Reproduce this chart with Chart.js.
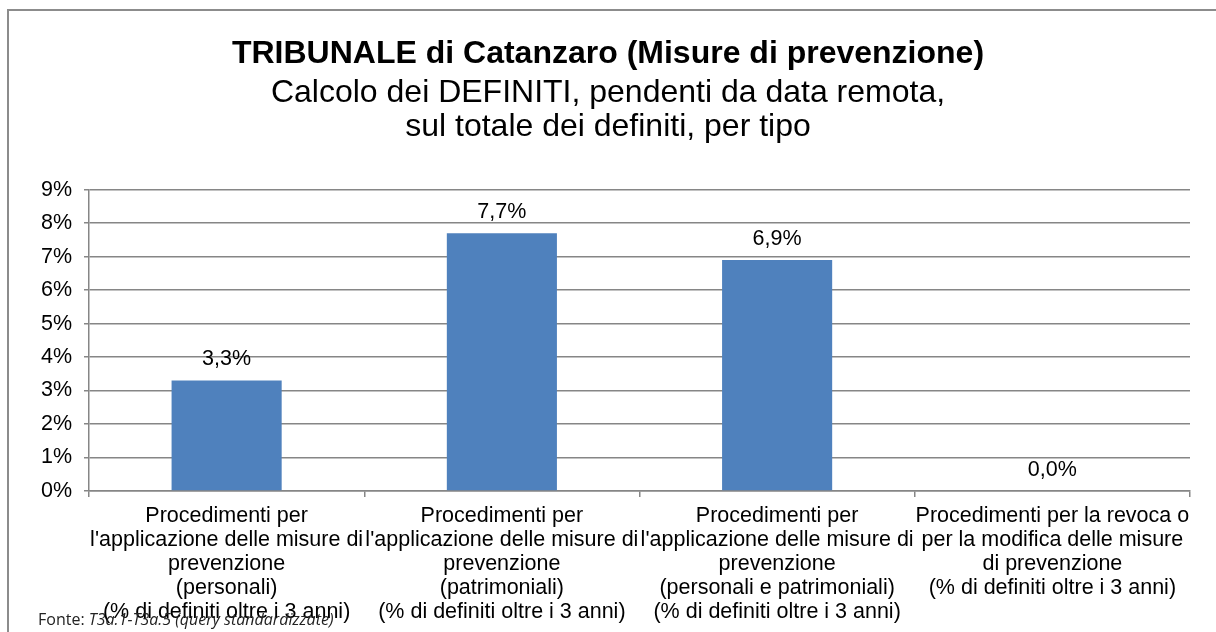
<!DOCTYPE html>
<html>
<head>
<meta charset="utf-8">
<script src="https://cdn.jsdelivr.net/npm/chart.js@4"></script>
<style>
  html, body { margin: 0; padding: 0; background: #fff; overflow: hidden; }
  #wrap { position: relative; width: 1216px; height: 632px; }
  #frame { position: absolute; left: 7px; top: 9px; width: 1300px; height: 700px; border: 2px solid #8c8c8c; }
  #box { position: absolute; left: 0; top: 0; width: 1216px; height: 632px; }
  #fonte { position: absolute; left: 38px; top: 608px; font: 16px "Open Sans", sans-serif; color: #222; white-space: nowrap; }
</style>
</head>
<body>
<div id="wrap">
  <div id="frame"></div>
  <div id="box"><canvas id="tribChart"></canvas></div>
  <div id="fonte">Fonte: <i>T3a.1-T3a.5 (query standardizzate)</i></div>
</div>
<script>
const categories = [
    ["Procedimenti per", "l'applicazione delle misure di", "prevenzione", "(personali)", "(% di definiti oltre i 3 anni)"],
    ["Procedimenti per", "l'applicazione delle misure di", "prevenzione", "(patrimoniali)", "(% di definiti oltre i 3 anni)"],
    ["Procedimenti per", "l'applicazione delle misure di", "prevenzione", "(personali e patrimoniali)", "(% di definiti oltre i 3 anni)"],
    ["Procedimenti per la revoca o", "per la modifica delle misure", "di prevenzione", "(% di definiti oltre i 3 anni)"]
]
const percentDefiniti = [3.3, 7.7, 6.9, 0.0]
const yTicks = [0, 1, 2, 3, 4, 5, 6, 7, 8, 9]

const titleText = "TRIBUNALE di Catanzaro (Misure di prevenzione)"
const subtitleLines = ["Calcolo dei DEFINITI, pendenti da data remota,", "sul totale dei definiti, per tipo"]

const FONT = "'Liberation Sans', Arial, sans-serif"
const GRID = "#868686"

// value labels above the bars, with italian decimal comma
const barLabels = {
    id: 'barLabels',
    afterDatasetsDraw(chart) {
        const ctx = chart.ctx
        const meta = chart.getDatasetMeta(0)
        ctx.save()
        ctx.font = "21.5px " + FONT
        ctx.fillStyle = "#000"
        ctx.textAlign = "center"
        ctx.textBaseline = "middle"
        meta.data.forEach((bar, i) => {
            const txt = percentDefiniti[i].toFixed(1).replace('.', ',') + '%'
            ctx.fillText(txt, bar.x, bar.y - 21)
        })
        ctx.restore()
    }
}

new Chart("tribChart", {
    type: "bar",
    data: {
        labels: categories,
        datasets: [{
            data: percentDefiniti,
            backgroundColor: "#4f81bd",
            borderWidth: 0,
            categoryPercentage: 1,
            barPercentage: 0.4,
        }]
    },
    plugins: [barLabels],
    options: {
        responsive: true,
        maintainAspectRatio: false,
        animation: false,
        devicePixelRatio: 1,
        layout: {
            padding: { left: 26, right: 26, top: 0, bottom: 0 }
        },
        plugins: {
            legend: { display: false },
            tooltip: { enabled: false },
            title: {
                display: true,
                text: titleText,
                color: "#000",
                font: { family: FONT, size: 32, weight: "bold", lineHeight: 1.1 },
                padding: { top: 37, bottom: 2 },
            },
            subtitle: {
                display: true,
                text: subtitleLines,
                color: "#000",
                font: { family: FONT, size: 32, weight: "normal", lineHeight: 1.07 },
                padding: { top: 2, bottom: 45 },
            },
        },
        scales: {
            x: {
                offset: true,
                grid: {
                    offset: true,
                    drawOnChartArea: false,
                    drawTicks: true,
                    tickLength: 6,
                    color: GRID,
                    lineWidth: 1.5,
                },
                border: { display: true, color: GRID, width: 1.5 },
                ticks: {
                    color: "#000",
                    font: { family: FONT, size: 21.5, lineHeight: 1.116 },
                    maxRotation: 0,
                    minRotation: 0,
                    autoSkip: false,
                    padding: 7,
                },
                afterFit(scale) { scale.height = 141 },
            },
            y: {
                min: 0,
                max: 9,
                afterBuildTicks(scale) { scale.ticks = yTicks.map(v => ({ value: v })) },
                grid: {
                    color: GRID,
                    lineWidth: 1.5,
                    drawTicks: true,
                    tickLength: 5,
                },
                border: { display: true, color: GRID, width: 1.5 },
                ticks: {
                    color: "#000",
                    font: { family: FONT, size: 21.5 },
                    padding: 12,
                    callback: v => v + '%',
                },
                afterFit(scale) { scale.width = 63 },
            },
        },
    }
})
</script>
</body>
</html>
